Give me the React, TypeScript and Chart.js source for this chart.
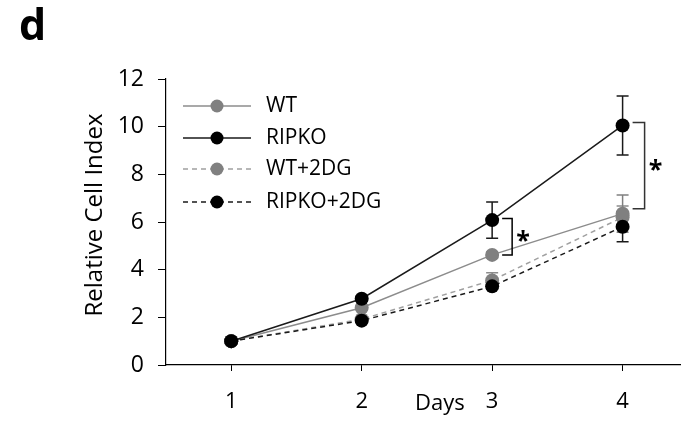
import React, { useEffect, useRef } from "react";
import { Chart, registerables } from "chart.js";
Chart.register(...registerables);

const days = [1, 2, 3, 4];
const xTicks = [1, 2, 3, 4];
const yTicks = [0, 2, 4, 6, 8, 10, 12];

const wt = [1, 2.4, 4.62, 6.35];
const ripko = [1, 2.78, 6.08, 10.05];
const wt2dg = [1, 1.92, 3.55, 6.2];
const ripko2dg = [1, 1.86, 3.3, 5.8];

const wtErr = [0, 0.08, 0.12, 0.78];
const ripkoErr = [0, 0.1, 0.76, 1.24];
const wt2dgErr = [0, 0.06, 0.32, 0.47];
const ripko2dgErr = [0, 0.06, 0.1, 0.63];

const seriesNames = ["WT", "RIPKO", "WT+2DG", "RIPKO+2DG"];

const bracketDays = [3, 4];
const bracketTop = [6.15, 10.17];
const bracketBottom = [4.62, 6.56];
const bracketLabels = ["*", "*"];

const FONT = "'Open Sans', Lato, sans-serif";

export default function App() {
  const ref = useRef<HTMLCanvasElement>(null);

  useEffect(() => {
    const canvas = ref.current!;
    const series = [
      { name: seriesNames[0], vals: wt, err: wtErr, line: "#8c8c8c", point: "#808080", errColor: "#808080", dash: [] as number[], order: 3 },
      { name: seriesNames[1], vals: ripko, err: ripkoErr, line: "#1a1a1a", point: "#000000", errColor: "#1a1a1a", dash: [] as number[], order: 2 },
      { name: seriesNames[2], vals: wt2dg, err: wt2dgErr, line: "#a0a0a0", point: "#808080", errColor: "#8c8c8c", dash: [5, 4], order: 1 },
      { name: seriesNames[3], vals: ripko2dg, err: ripko2dgErr, line: "#1a1a1a", point: "#000000", errColor: "#1a1a1a", dash: [5, 4], order: 0 },
    ];

    const plugin = {
      id: "extras",
      beforeDatasetsDraw(chart: any) {
        const ctx = chart.ctx;
        const xs = chart.scales.x;
        const ys = chart.scales.y;
        ctx.save();
        [...series].reverse().forEach((s) => {
          ctx.strokeStyle = s.errColor;
          ctx.lineWidth = 1.5;
          ctx.setLineDash([]);
          days.forEach((d, i) => {
            const e = s.err[i];
            if (!e) return;
            const px = xs.getPixelForValue(d);
            const top = ys.getPixelForValue(s.vals[i] + e);
            const bot = ys.getPixelForValue(s.vals[i] - e);
            ctx.beginPath();
            ctx.moveTo(px, top);
            ctx.lineTo(px, bot);
            ctx.moveTo(px - 6, top);
            ctx.lineTo(px + 6, top);
            ctx.moveTo(px - 6, bot);
            ctx.lineTo(px + 6, bot);
            ctx.stroke();
          });
        });
        ctx.restore();
      },
      afterDatasetsDraw(chart: any) {
        const ctx = chart.ctx;
        const xs = chart.scales.x;
        const ys = chart.scales.y;
        ctx.save();
        bracketDays.forEach((d, i) => {
          const px = xs.getPixelForValue(d);
          const t = ys.getPixelForValue(bracketTop[i]);
          const b = ys.getPixelForValue(bracketBottom[i]);
          const vx = px + (i === 0 ? 20 : 22);
          ctx.strokeStyle = i === 0 ? "#000" : "#333";
          ctx.lineWidth = 1.5;
          ctx.setLineDash([]);
          ctx.beginPath();
          ctx.moveTo(px + 10, t);
          ctx.lineTo(vx, t);
          ctx.lineTo(vx, b);
          ctx.lineTo(px + 10, b);
          ctx.stroke();
          ctx.fillStyle = "#000";
          ctx.font = `bold 25px ${FONT}`;
          ctx.textAlign = "center";
          ctx.textBaseline = "middle";
          ctx.fillText(bracketLabels[i], vx + 11, (t + b) / 2 + 5);
        });
        const rows = [106, 138, 169, 202];
        series.forEach((s, i) => {
          const y = rows[i];
          ctx.strokeStyle = s.line;
          ctx.lineWidth = 1.5;
          ctx.setLineDash(s.dash);
          ctx.beginPath();
          ctx.moveTo(183, y);
          ctx.lineTo(251, y);
          ctx.stroke();
          ctx.setLineDash([]);
          ctx.fillStyle = s.point;
          ctx.beginPath();
          ctx.arc(217, y, 6.5, 0, Math.PI * 2);
          ctx.fill();
          ctx.fillStyle = "#000";
          ctx.font = `21px ${FONT}`;
          ctx.textAlign = "left";
          ctx.textBaseline = "middle";
          ctx.fillText(s.name, 266, y);
        });
        ctx.restore();
      },
      afterDraw(chart: any) {
        const ctx = chart.ctx;
        const xs = chart.scales.x;
        ctx.save();
        ctx.fillStyle = "#000";
        ctx.font = `bold 43px ${FONT}`;
        ctx.textAlign = "left";
        ctx.textBaseline = "alphabetic";
        ctx.fillText("d", 19, 40);
        ctx.font = `24px ${FONT}`;
        ctx.translate(95, 215);
        ctx.rotate(-Math.PI / 2);
        ctx.textAlign = "center";
        ctx.textBaseline = "middle";
        ctx.fillText("Relative Cell Index", 0, 0);
        ctx.restore();
        ctx.save();
        ctx.fillStyle = "#000";
        ctx.font = `22px ${FONT}`;
        ctx.textAlign = "center";
        ctx.textBaseline = "alphabetic";
        ctx.fillText("Days", xs.getPixelForValue(2.6), 410);
        ctx.restore();
      },
    };

    const chart = new Chart(canvas, {
      type: "line",
      data: {
        datasets: series.map((s) => ({
          label: s.name,
          data: days.map((d, i) => ({ x: d, y: s.vals[i] })),
          borderColor: s.line,
          borderWidth: 1.5,
          borderDash: s.dash,
          pointRadius: 7,
          pointHoverRadius: 7,
          pointBackgroundColor: s.point,
          pointBorderColor: s.point,
          pointBorderWidth: 0,
          order: s.order,
          tension: 0,
          fill: false,
        })),
      },
      options: {
        responsive: false,
        animation: false,
        devicePixelRatio: 1,
        layout: { padding: { top: 79, right: 7, left: 0, bottom: 0 } },
        plugins: { legend: { display: false }, tooltip: { enabled: false } },
        scales: {
          x: {
            type: "linear",
            min: 0.5,
            max: 4.44,
            afterBuildTicks: (s: any) => {
              s.ticks = xTicks.map((v) => ({ value: v }));
            },
            afterFit: (s: any) => {
              s.height = 57;
            },
            grid: { drawOnChartArea: false, drawTicks: true, tickLength: 6, color: "#000", lineWidth: 1 },
            border: { color: "#000", width: 1.2 },
            ticks: { color: "#000", font: { family: FONT, size: 22 }, padding: 18, maxRotation: 0, callback: (v: any) => String(v) },
          },
          y: {
            min: 0,
            max: 12,
            afterBuildTicks: (s: any) => {
              s.ticks = yTicks.map((v) => ({ value: v }));
            },
            afterFit: (s: any) => {
              s.width = 166;
            },
            grid: { drawOnChartArea: false, drawTicks: true, tickLength: 8, color: "#000", lineWidth: 1 },
            border: { color: "#000", width: 1.2 },
            ticks: { color: "#000", font: { family: FONT, size: 23 }, padding: 14, callback: (v: any) => String(v) },
          },
        },
      },
      plugins: [plugin],
    } as any);
    return () => chart.destroy();
  }, []);

  return (
    <div style={{ position: "fixed", left: 0, top: 0, width: 687, height: 422, background: "#fff" }}>
      <canvas ref={ref} width={687} height={422} style={{ width: 687, height: 422, display: "block" }} />
    </div>
  );
}
